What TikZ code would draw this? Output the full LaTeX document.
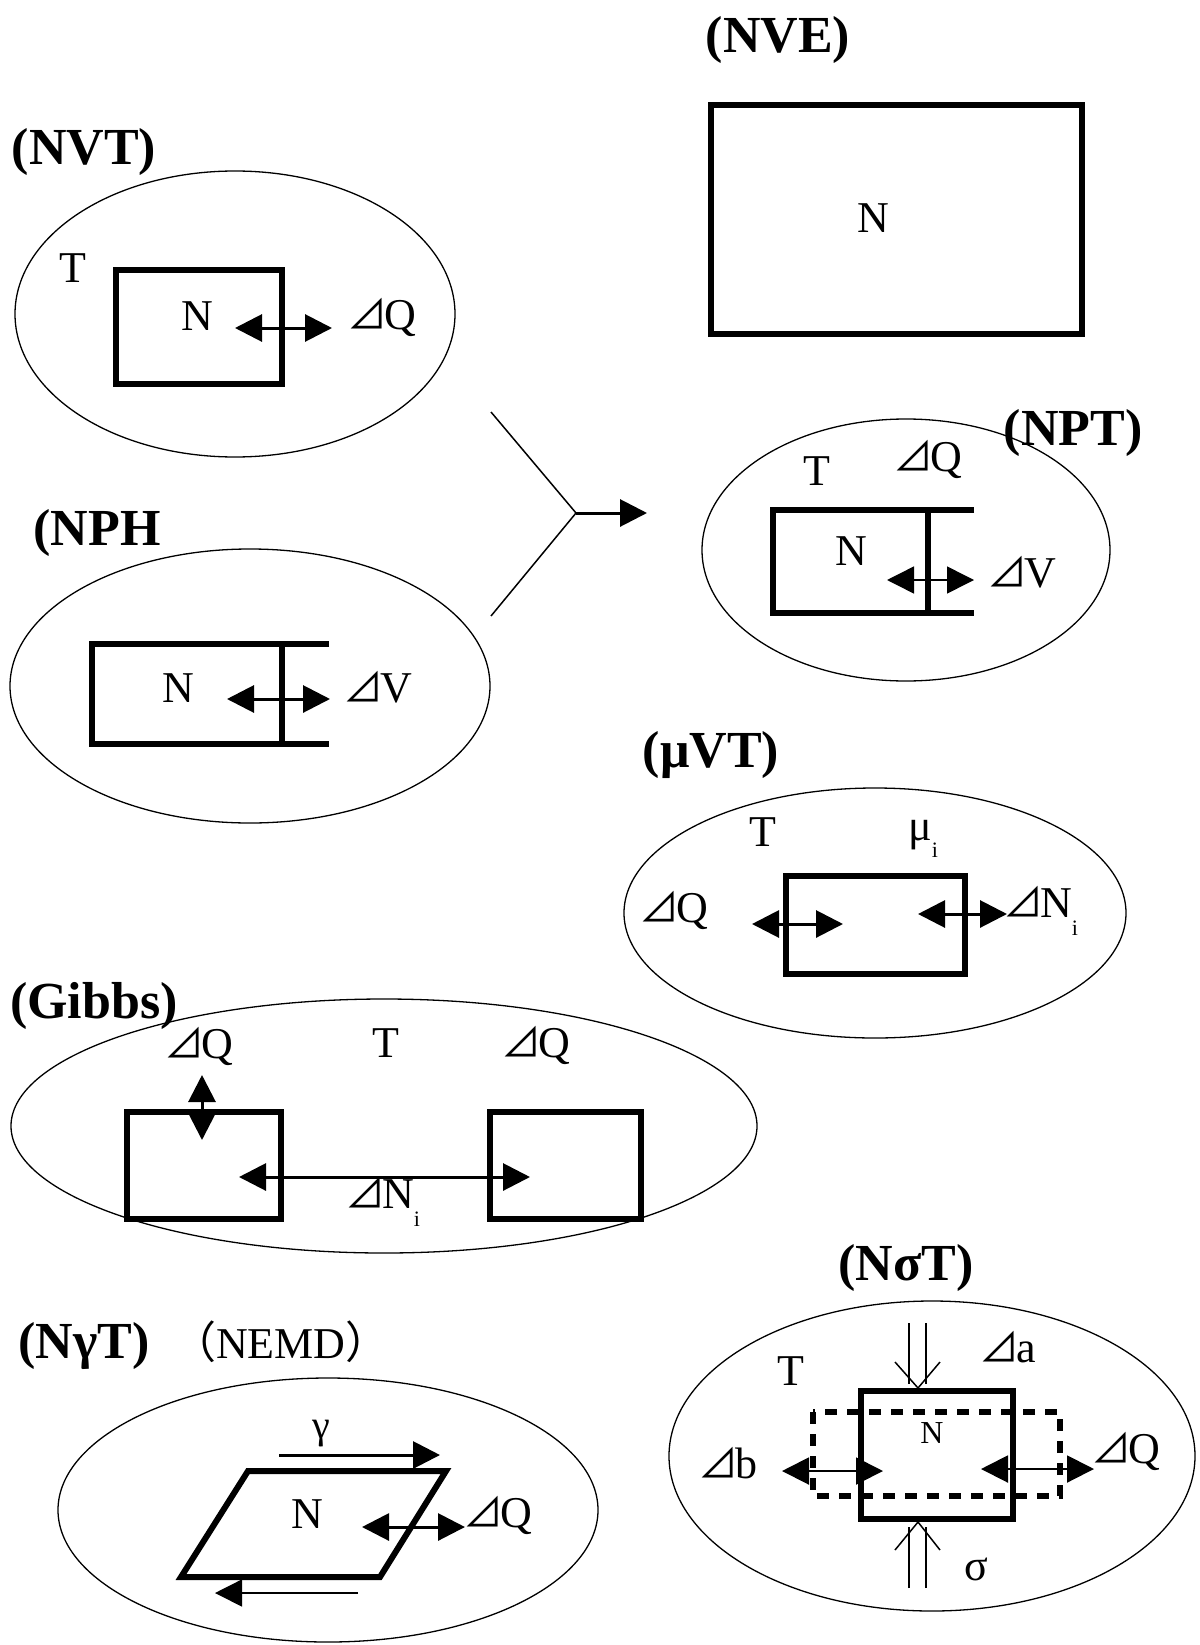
\documentclass[tikz,border=0pt]{standalone}
\usepackage{fontspec}
\setmainfont{Liberation Serif}
\newfontfamily\cjkfont{Noto Sans CJK JP}
\usetikzlibrary{arrows.meta}
\newcommand{\dtr}{{\cjkfont\fontsize{40}{40}\selectfont\kern-5pt ⊿\kern-3pt}}
\newcommand{\subi}[1]{\raisebox{-#1}{\fontsize{22}{24}\selectfont i}}
\begin{document}
\begin{tikzpicture}[x=1pt,y=-1pt,
  title/.style={font=\fontsize{52}{60}\selectfont\bfseries, inner sep=0pt, anchor=base},
  lab/.style={font=\fontsize{44}{50}\selectfont, inner sep=0pt, anchor=base},
  ring/.style={line width=1.3pt},
  heavy/.style={line width=6pt},
  thinline/.style={line width=1.5pt},
  bi/.style={line width=3pt, {Triangle[length=27pt,width=27pt]}-{Triangle[length=27pt,width=27pt]}},
  bithin/.style={line width=1.5pt, {Triangle[length=27pt,width=27pt]}-{Triangle[length=27pt,width=27pt]}},
  onehead/.style={line width=3pt, -{Triangle[length=27pt,width=27pt]}},
  oneheadthin/.style={line width=1.5pt, -{Triangle[length=27pt,width=27pt]}}
]
\useasboundingbox (0,0) rectangle (1199,1645);

% ---------- NVT ----------
\node[title] (tNVT) at (84,165) {(NVT)};
\draw[ring] (235,314) ellipse [x radius=220pt, y radius=143pt];
\draw[heavy] (116,270) rectangle (282,384);
\node[lab] (nvtT) at (73,282) {T};
\node[lab] (nvtN) at (197,330) {N};
\node[lab] (nvtQ) at (384,329) {\dtr Q};
\coordinate (nvtA1) at (235,328);
\coordinate (nvtA2) at (332,328);
\draw[bi] (nvtA1) -- (nvtA2);

% ---------- NVE ----------
\node[title] (tNVE) at (778,53) {(NVE)};
\draw[heavy] (711,105) rectangle (1082,334);
\node[lab] (nveN) at (873,233) {N};

% ---------- connector ----------
\coordinate (cU) at (491,412);
\coordinate (cL) at (491,616);
\coordinate (cJ) at (576,513);
\coordinate (cE) at (647,513);
\draw[thinline] (cU) -- (cJ) -- (cL);
\draw[onehead] (cJ) -- (cE);

% ---------- NPT ----------
\draw[ring] (906,550) ellipse [x radius=204pt, y radius=131pt];
\node[title] (tNPT) at (1073,445) {(NPT)};
\node[lab] (nptT) at (817,485) {T};
\node[lab] (nptQ) at (930,471) {\dtr Q};
\draw[heavy] (974,510) -- (773,510) -- (773,613) -- (974,613);
\draw[heavy] (928,510) -- (928,613);
\node[lab] (nptN) at (851,565) {N};
\node[lab] (nptV) at (1024,587) {\dtr V};
\coordinate (nptA1) at (887,580);
\coordinate (nptA2) at (974,580);
\draw[bithin] (nptA1) -- (nptA2);

% ---------- NPH ----------
\node[title] (tNPH) at (97,545) {(NPH};
\draw[ring] (250,686) ellipse [x radius=240pt, y radius=137pt];
\draw[heavy] (329,644) -- (92,644) -- (92,744) -- (329,744);
\draw[heavy] (282,644) -- (282,744);
\node[lab] (nphN) at (178,702) {N};
\node[lab] (nphV) at (380,702) {\dtr V};
\coordinate (nphA1) at (227,699);
\coordinate (nphA2) at (330,699);
\draw[bi] (nphA1) -- (nphA2);

% ---------- muVT ----------
\node[title] (tMVT) at (711,767) {(μVT)};
\draw[ring] (875,913) ellipse [x radius=251pt, y radius=125pt];
\node[lab] (mvtT) at (763,846) {T};
\node[lab, anchor=base west] (mvtMu) at (908,840) {μ\subi{17pt}};
\draw[heavy] (786,876) rectangle (965,974);
\node[lab] (mvtQ) at (676,922) {\dtr Q};
\node[lab, anchor=base west] (mvtN) at (1008,917) {\dtr N\subi{18pt}};
\coordinate (mvtA1) at (752,924);
\coordinate (mvtA2) at (843,924);
\coordinate (mvtB1) at (918,914);
\coordinate (mvtB2) at (1007,914);
\draw[bi] (mvtA1) -- (mvtA2);
\draw[bi] (mvtB1) -- (mvtB2);

% ---------- Gibbs ----------
\draw[ring] (384,1126) ellipse [x radius=373pt, y radius=127pt];
\node[title] (tGibbs) at (94,1018) {(Gibbs)};
\node[lab] (gQ1) at (201,1058) {\dtr Q};
\node[lab] (gT) at (386,1057) {T};
\node[lab] (gQ2) at (538,1057) {\dtr Q};
\draw[heavy] (127,1112) rectangle (281,1219);
\draw[heavy] (490,1112) rectangle (641,1219);
\coordinate (gV1) at (202,1075);
\coordinate (gV2) at (202,1140);
\coordinate (gH1) at (239,1177);
\coordinate (gH2) at (530,1177);
\draw[bi] (gV1) -- (gV2);
\draw[bi] (gH1) -- (gH2);
\node[lab, anchor=base west] (gN) at (350,1208) {\dtr N\subi{18pt}};

% ---------- NgammaT ----------
\node[title] (tNGT) at (84,1358) {(NγT)};
\node[lab] (tNEMD) at (281,1358) {{\cjkfont （}NEMD{\cjkfont ）}};
\draw[ring] (328,1510) ellipse [x radius=270pt, y radius=132pt];
\node[lab, font=\fontsize{40}{44}\selectfont, anchor=center] (ngG) at (321,1434) {γ};
\coordinate (ngS1) at (279,1455);
\coordinate (ngS2) at (440,1455);
\draw[onehead] (ngS1) -- (ngS2);
\draw[heavy, line join=miter] (248,1471) -- (446,1471) -- (380,1577) -- (181,1577) -- cycle;
\node[lab] (ngN) at (307,1528) {N};
\coordinate (ngA1) at (362,1527);
\coordinate (ngA2) at (465,1527);
\draw[bi] (ngA1) -- (ngA2);
\node[lab] (ngQ) at (500,1527) {\dtr Q};
\coordinate (ngB1) at (358,1593);
\coordinate (ngB2) at (215,1593);
\draw[oneheadthin] (ngB1) -- (ngB2);

% ---------- NsigmaT ----------
\node[title] (tNST) at (906,1280) {(NσT)};
\draw[ring] (932,1456) ellipse [x radius=263pt, y radius=155pt];
\node[lab] (nsT) at (791,1385) {T};
\node[lab] (nsA) at (1010,1362) {\dtr a};
\draw[heavy] (861,1391) rectangle (1013,1519);
\draw[heavy, dash pattern=on 12pt off 10pt] (813,1412) rectangle (1060,1496);
\node[lab, font=\fontsize{32}{36}\selectfont] (nsN) at (932,1443) {N};
\node[lab] (nsB) at (730,1478) {\dtr b};
\node[lab] (nsQ) at (1128,1463) {\dtr Q};
\node[lab] (nsS) at (976,1580) {σ};
\coordinate (nsL1) at (782,1471);
\coordinate (nsL2) at (883,1471);
\coordinate (nsR1) at (981,1469);
\coordinate (nsR2) at (1094,1469);
\draw[line width=2pt, {Triangle[length=27pt,width=27pt]}-{Triangle[length=27pt,width=27pt]}] (nsL1) -- (nsL2);
\draw[line width=2pt, {Triangle[length=27pt,width=27pt]}-{Triangle[length=27pt,width=27pt]}] (nsR1) -- (nsR2);
% top open double arrow
\coordinate (dtL) at (909,1323);
\coordinate (dtLe) at (909,1384);
\coordinate (dtR) at (926,1323);
\coordinate (dtRe) at (926,1384);
\coordinate (dtB1) at (895,1362);
\coordinate (dtTip) at (918,1388);
\coordinate (dtB2) at (940,1362);
\draw[thinline] (dtL) -- (dtLe);
\draw[thinline] (dtR) -- (dtRe);
\draw[thinline] (dtB1) -- (dtTip) -- (dtB2);
% bottom open double arrow
\coordinate (dbL) at (909,1588);
\coordinate (dbLe) at (909,1527);
\coordinate (dbR) at (926,1588);
\coordinate (dbRe) at (926,1527);
\coordinate (dbB1) at (895,1550);
\coordinate (dbTip) at (918,1522);
\coordinate (dbB2) at (940,1550);
\draw[thinline] (dbL) -- (dbLe);
\draw[thinline] (dbR) -- (dbRe);
\draw[thinline] (dbB1) -- (dbTip) -- (dbB2);
\end{tikzpicture}
\end{document}
